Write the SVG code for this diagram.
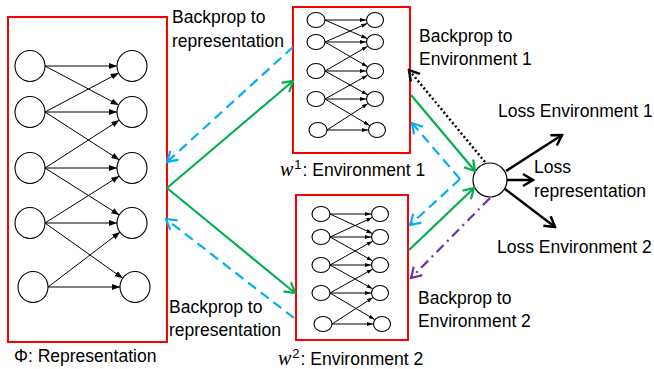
<svg xmlns="http://www.w3.org/2000/svg" width="654" height="369" viewBox="0 0 654 369">
<style>
.box{fill:#fff;stroke:#FF0000;stroke-width:2}
.n{fill:#fff;stroke:#000;stroke-width:1.1}
.e{stroke:#000;stroke-width:1;fill:none}
.t{font-family:"Liberation Sans",Arial,sans-serif;font-size:17.5px;fill:#000}
.w{font-family:"Liberation Serif","DejaVu Serif",serif;font-style:italic;font-size:20px}
.g{stroke:#00B050;stroke-width:2.2;fill:none}
.b{stroke:#00B0F0;stroke-width:2.2;fill:none;stroke-dasharray:10 6}
.k{stroke:#000;stroke-width:2.5;fill:none}
.dot{stroke:#000;stroke-width:2.5;fill:none;stroke-dasharray:2 2.5}
.p{stroke:#7030A0;stroke-width:2.2;fill:none;stroke-dasharray:10 5 2 5}
</style>
<defs>
<marker id="s" viewBox="0 0 8 6" refX="8" refY="3" markerWidth="8" markerHeight="6" markerUnits="userSpaceOnUse" orient="auto"><path d="M0,0 L8,3 L0,6 z" fill="#000"/></marker>
<marker id="ss" viewBox="0 0 6 4" refX="6" refY="2" markerWidth="6" markerHeight="4" markerUnits="userSpaceOnUse" orient="auto"><path d="M0,0 L6,2 L0,4 z" fill="#000"/></marker>
<marker id="ag" viewBox="-12 -8 14 16" refX="0" refY="0" markerWidth="14" markerHeight="16" markerUnits="userSpaceOnUse" orient="auto"><path d="M-10,-6 L0,0 L-10,6" fill="none" stroke="#00B050" stroke-width="2.2"/></marker>
<marker id="ab" viewBox="-12 -8 14 16" refX="0" refY="0" markerWidth="14" markerHeight="16" markerUnits="userSpaceOnUse" orient="auto"><path d="M-10,-6 L0,0 L-10,6" fill="none" stroke="#00B0F0" stroke-width="2.2"/></marker>
<marker id="ap" viewBox="-12 -8 14 16" refX="0" refY="0" markerWidth="14" markerHeight="16" markerUnits="userSpaceOnUse" orient="auto"><path d="M-10,-6 L0,0 L-10,6" fill="none" stroke="#7030A0" stroke-width="2.2"/></marker>
<marker id="ak" viewBox="-12 -8 14 16" refX="0" refY="0" markerWidth="14" markerHeight="16" markerUnits="userSpaceOnUse" orient="auto"><path d="M-10,-6 L0,0 L-10,6" fill="none" stroke="#000" stroke-width="2.5"/></marker>
</defs>
<rect width="654" height="369" fill="#fff"/>

<g id="representation">
<rect class="box" x="8" y="17" width="159" height="325"/>
<g class="e" marker-end="url(#s)">
<line x1="45" y1="66" x2="117" y2="66"/>
<line x1="45" y1="66" x2="118.7" y2="105"/>
<line x1="45" y1="112" x2="118.7" y2="73"/>
<line x1="45" y1="112" x2="117" y2="112"/>
<line x1="45" y1="112" x2="119.4" y2="159.9"/>
<line x1="45" y1="168" x2="119.4" y2="120.1"/>
<line x1="45" y1="168" x2="117" y2="168"/>
<line x1="45" y1="168" x2="119.3" y2="215"/>
<line x1="45" y1="223" x2="119.3" y2="176"/>
<line x1="45" y1="223" x2="117" y2="223"/>
<line x1="45" y1="223" x2="122.8" y2="278.3"/>
<line x1="48" y1="287" x2="120.1" y2="232.1"/>
<line x1="48" y1="287" x2="120" y2="287"/>
</g>
<g class="n">
<ellipse cx="30" cy="66" rx="15" ry="15.5"/><ellipse cx="30" cy="112" rx="15" ry="15.5"/><ellipse cx="30" cy="168" rx="15" ry="15.5"/><ellipse cx="30" cy="223" rx="15" ry="15.5"/><ellipse cx="33" cy="287" rx="15" ry="15.5"/>
<ellipse cx="132" cy="66" rx="15" ry="15.5"/><ellipse cx="132" cy="112" rx="15" ry="15.5"/><ellipse cx="132" cy="168" rx="15" ry="15.5"/><ellipse cx="132" cy="223" rx="15" ry="15.5"/><ellipse cx="135" cy="287" rx="15" ry="15.5"/>
</g>
<text class="t" x="14" y="362">Φ: Representation</text>
</g>

<g id="env1">
<rect class="box" x="293" y="7" width="117" height="146"/>
<g class="e" marker-end="url(#ss)">
<line x1="325" y1="20" x2="366" y2="20"/>
<line x1="325" y1="20" x2="367.2" y2="38.6"/>
<line x1="325" y1="42" x2="367.2" y2="23.4"/>
<line x1="325" y1="42" x2="366" y2="42"/>
<line x1="325" y1="42" x2="367.6" y2="66.7"/>
<line x1="325" y1="71" x2="367.6" y2="46.3"/>
<line x1="325" y1="71" x2="366" y2="71"/>
<line x1="325" y1="71" x2="367.6" y2="94.8"/>
<line x1="325" y1="99" x2="367.6" y2="75.2"/>
<line x1="325" y1="99" x2="366" y2="99"/>
<line x1="325" y1="99" x2="369.7" y2="125.6"/>
<line x1="327" y1="130" x2="367.9" y2="103.6"/>
<line x1="327" y1="130" x2="368" y2="130"/>
</g>
<g class="n">
<ellipse cx="316" cy="20" rx="9" ry="7.5"/><ellipse cx="316" cy="42" rx="9" ry="7.5"/><ellipse cx="316" cy="71" rx="9" ry="7.5"/><ellipse cx="316" cy="99" rx="9" ry="7.5"/><ellipse cx="318" cy="130" rx="9" ry="7.5"/>
<ellipse cx="375" cy="20" rx="8.5" ry="7.5"/><ellipse cx="375" cy="42" rx="8.5" ry="7.5"/><ellipse cx="375" cy="71" rx="8.5" ry="7.5"/><ellipse cx="375" cy="99" rx="8.5" ry="7.5"/><ellipse cx="377" cy="130" rx="8.5" ry="7.5"/>
</g>
<text class="t" x="280" y="176"><tspan class="w">w</tspan><tspan font-size="13" dx="1" dy="-7">1</tspan><tspan dx="1" dy="7">: Environment 1</tspan></text>
</g>

<g id="env2">
<rect class="box" x="296" y="195" width="112" height="145"/>
<g class="e" marker-end="url(#ss)">
<line x1="330" y1="214" x2="371" y2="214"/>
<line x1="330" y1="214" x2="372.3" y2="233.4"/>
<line x1="330" y1="237" x2="372.3" y2="217.6"/>
<line x1="330" y1="237" x2="371" y2="237"/>
<line x1="330" y1="237" x2="372.6" y2="260.8"/>
<line x1="330" y1="265" x2="372.6" y2="241.2"/>
<line x1="330" y1="265" x2="371" y2="265"/>
<line x1="330" y1="265" x2="372.6" y2="288.8"/>
<line x1="330" y1="293" x2="372.6" y2="269.2"/>
<line x1="330" y1="293" x2="371" y2="293"/>
<line x1="330" y1="293" x2="374.7" y2="319.6"/>
<line x1="332" y1="324" x2="372.9" y2="297.6"/>
<line x1="332" y1="324" x2="373" y2="324"/>
</g>
<g class="n">
<ellipse cx="321" cy="214" rx="9" ry="7.5"/><ellipse cx="321" cy="237" rx="9" ry="7.5"/><ellipse cx="321" cy="265" rx="9" ry="7.5"/><ellipse cx="321" cy="293" rx="9" ry="7.5"/><ellipse cx="323" cy="324" rx="9" ry="7.5"/>
<ellipse cx="380" cy="214" rx="8.5" ry="7.5"/><ellipse cx="380" cy="237" rx="8.5" ry="7.5"/><ellipse cx="380" cy="265" rx="8.5" ry="7.5"/><ellipse cx="380" cy="293" rx="8.5" ry="7.5"/><ellipse cx="382" cy="324" rx="8.5" ry="7.5"/>
</g>
<text class="t" x="278" y="365"><tspan class="w">w</tspan><tspan font-size="13" dx="1" dy="-7">2</tspan><tspan dx="1" dy="7">: Environment 2</tspan></text>
</g>

<g id="loss">
<circle cx="490" cy="180" r="17" fill="#fff" stroke="#000" stroke-width="1.2"/>
</g>

<g id="connectors">
<line class="g" x1="167" y1="188" x2="293" y2="81" marker-end="url(#ag)"/>
<line class="g" x1="167" y1="188" x2="295" y2="293" marker-end="url(#ag)"/>
<line class="g" x1="411" y1="95" x2="475" y2="171" marker-end="url(#ag)"/>
<line class="g" x1="409" y1="250" x2="474" y2="188" marker-end="url(#ag)"/>
<line class="b" x1="293" y1="47" x2="167" y2="162" marker-end="url(#ab)"/>
<line class="b" x1="294" y1="318" x2="166" y2="219" marker-end="url(#ab)"/>
<line class="b" x1="460" y1="179" x2="412" y2="123" marker-end="url(#ab)"/>
<line class="b" x1="460" y1="179" x2="410" y2="225" marker-end="url(#ab)"/>
<line class="dot" x1="485" y1="162" x2="409" y2="70" marker-end="url(#ak)"/>
<line class="p" x1="490" y1="198" x2="411" y2="278" marker-end="url(#ap)"/>
<line class="k" x1="506" y1="171" x2="562" y2="135" marker-end="url(#ak)"/>
<line class="k" x1="507" y1="180" x2="533" y2="180" marker-end="url(#ak)"/>
<line class="k" x1="505" y1="189" x2="555" y2="227" marker-end="url(#ak)"/>
</g>

<g id="labels">
<text class="t" x="172" y="23">Backprop to</text>
<text class="t" x="172" y="47">representation</text>
<text class="t" x="169" y="313">Backprop to</text>
<text class="t" x="169" y="336">representation</text>
<text class="t" x="419" y="42">Backprop to</text>
<text class="t" x="419" y="65">Environment 1</text>
<text class="t" x="418" y="304">Backprop to</text>
<text class="t" x="418" y="327">Environment 2</text>
<text class="t" x="498" y="117">Loss Environment 1</text>
<text class="t" x="534" y="173">Loss</text>
<text class="t" x="534" y="197">representation</text>
<text class="t" x="497" y="253">Loss Environment 2</text>
</g>
</svg>
